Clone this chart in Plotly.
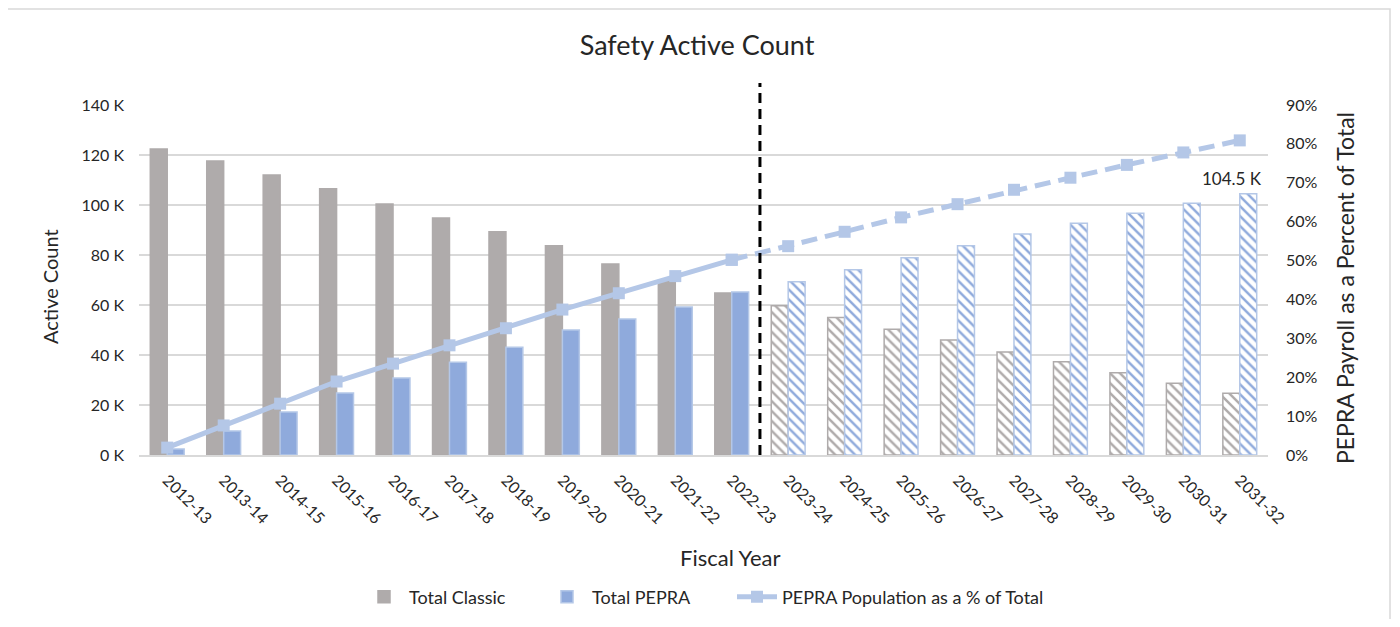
import plotly.graph_objects as go

categories = ["2012-13", "2013-14", "2014-15", "2015-16", "2016-17", "2017-18", "2018-19",
              "2019-20", "2020-21", "2021-22", "2022-23", "2023-24", "2024-25", "2025-26",
              "2026-27", "2027-28", "2028-29", "2029-30", "2030-31", "2031-32"]
total_classic = [122400, 117600, 112000, 106500, 100400, 94800, 89300, 83700, 76400, 69800,
                 64800, 59700, 55000, 50300, 46000, 41200, 37300, 32900, 28700, 24700]
total_pepra = [2400, 9600, 17200, 24800, 30800, 37100, 43100, 50000, 54400, 59200,
               65200, 69300, 74100, 78900, 83700, 88400, 92700, 96700, 100700, 104500]
pepra_pct = [0.019, 0.076, 0.132, 0.189, 0.235, 0.282, 0.326, 0.374, 0.416, 0.460,
             0.502, 0.537, 0.574, 0.611, 0.645, 0.682, 0.713, 0.746, 0.778, 0.809]
projected = [False] * 11 + [True] * 9
left_ticks = [0, 20000, 40000, 60000, 80000, 100000, 120000, 140000]
left_ticktext = ["0 K", "20 K", "40 K", "60 K", "80 K", "100 K", "120 K", "140 K"]
last_label = "104.5 K"

GRAY = "#AFABAB"
BLUE = "#8FAADC"
LBLUE = "#B4C7E7"
TXT = "#262626"
FONT = "Lato"

# page offset (browser body margin)
OFF = 8
W, H = 1400 - 2 * OFF, 627 - 2 * OFF
# plot area in screen pixels
SL, SR, ST, SB = 139, 1268, 105, 455
L, R, T, B = SL - OFF, SR - OFF, ST - OFF, SB - OFF
pw, ph = R - L, B - T


def px(xs):
    return (xs - OFF - L) / pw


def py(ys):
    return (B - (ys - OFF)) / ph


shapes_pattern = ["\\" if p else "" for p in projected]

fig = go.Figure()
fig.add_trace(go.Bar(
    x=categories, y=total_classic, name="Total Classic", legend="legend",
    marker=dict(color=GRAY, line=dict(color=GRAY, width=1.5),
                pattern=dict(shape=shapes_pattern, bgcolor="white", fillmode="replace",
                             size=7, solidity=0.35)),
))
fig.add_trace(go.Bar(
    x=categories, y=total_pepra, name="Total PEPRA", legend="legend2",
    marker=dict(color=BLUE, line=dict(color=LBLUE, width=1.5),
                pattern=dict(shape=shapes_pattern, bgcolor="white", fillmode="replace",
                             size=7, solidity=0.35)),
))
fig.add_trace(go.Scatter(
    x=categories[:11], y=pepra_pct[:11], name="PEPRA Population as a % of Total",
    legend="legend3", yaxis="y2", mode="lines+markers",
    line=dict(color=LBLUE, width=5),
    marker=dict(symbol="square", size=12, color=LBLUE),
))
fig.add_trace(go.Scatter(
    x=categories[10:], y=pepra_pct[10:], showlegend=False,
    yaxis="y2", mode="lines+markers",
    line=dict(color=LBLUE, width=5, dash="16px,8px"),
    marker=dict(symbol="square", size=12, color=LBLUE),
))


def legend_at(xs):
    return dict(orientation="h", x=px(xs), xanchor="left", y=py(597), yanchor="middle",
                font=dict(size=18, color=TXT), itemwidth=40, bgcolor="rgba(0,0,0,0)")


fig.update_layout(
    width=W, height=H,
    margin=dict(l=L, r=W - R, t=T, b=H - B, autoexpand=False),
    paper_bgcolor="white", plot_bgcolor="white",
    font=dict(family=FONT, size=16, color=TXT),
    barmode="group", bargap=0.4, bargroupgap=0,
    title=dict(text="Safety Active Count", x=(697 - OFF) / W, xref="container",
               xanchor="center", y=1 - (46 - OFF) / H, yanchor="middle", yref="container",
               font=dict(size=27, color=TXT, family=FONT)),
    xaxis=dict(type="category", range=[-0.5, 19.5], autorange=False, tickangle=45,
               showgrid=False, ticks="", automargin=False,
               showline=True, linecolor="#D9D9D9", linewidth=1.5,
               tickfont=dict(size=16, color=TXT), ticklabelstandoff=8),
    yaxis=dict(range=[0, 140000], tickvals=left_ticks, ticktext=left_ticktext,
               showgrid=True, gridcolor="#D9D9D9", gridwidth=1.5, zeroline=False,
               ticks="", automargin=False,
               tickfont=dict(size=16, color=TXT), ticklabelstandoff=14),
    yaxis2=dict(range=[0, 0.9], dtick=0.1, tickformat=".0%", overlaying="y", side="right",
                showgrid=False, zeroline=False, ticks="", automargin=False,
                tickfont=dict(size=16, color=TXT), ticklabelstandoff=17),
    legend=legend_at(359),
    legend2=legend_at(542),
    legend3=legend_at(732),
    showlegend=True,
)

fig.add_annotation(text="Active Count", xref="paper", yref="paper", x=px(50), y=py(287),
                   textangle=-90, showarrow=False, font=dict(size=20, color=TXT),
                   xanchor="center", yanchor="middle")
fig.add_annotation(text="PEPRA Payroll as a Percent of Total", xref="paper", yref="paper",
                   x=px(1345), y=py(288), textangle=-90, showarrow=False,
                   font=dict(size=23, color=TXT), xanchor="center", yanchor="middle")
fig.add_annotation(text="Fiscal Year", xref="paper", yref="paper", x=px(730), y=py(557),
                   showarrow=False, font=dict(size=22, color=TXT),
                   xanchor="center", yanchor="middle")
fig.add_annotation(text=last_label, x=categories[-1], y=total_pepra[-1], xref="x", yref="y",
                   showarrow=False, xanchor="center", yanchor="bottom", xshift=-8, yshift=3,
                   font=dict(size=17, color=TXT))

# forecast divider
fig.add_shape(type="line", xref="x", yref="paper", x0=10.5, x1=10.5, y0=0, y1=py(83),
              line=dict(color="black", width=3, dash="10px,6px"))
# outer frame
fig.add_shape(type="rect", xref="paper", yref="paper", x0=px(5), x1=px(1390),
              y0=py(700), y1=py(9), line=dict(color="#D9D9D9", width=1.5),
              fillcolor="rgba(0,0,0,0)", layer="below")

fig.write_html("out.html")
